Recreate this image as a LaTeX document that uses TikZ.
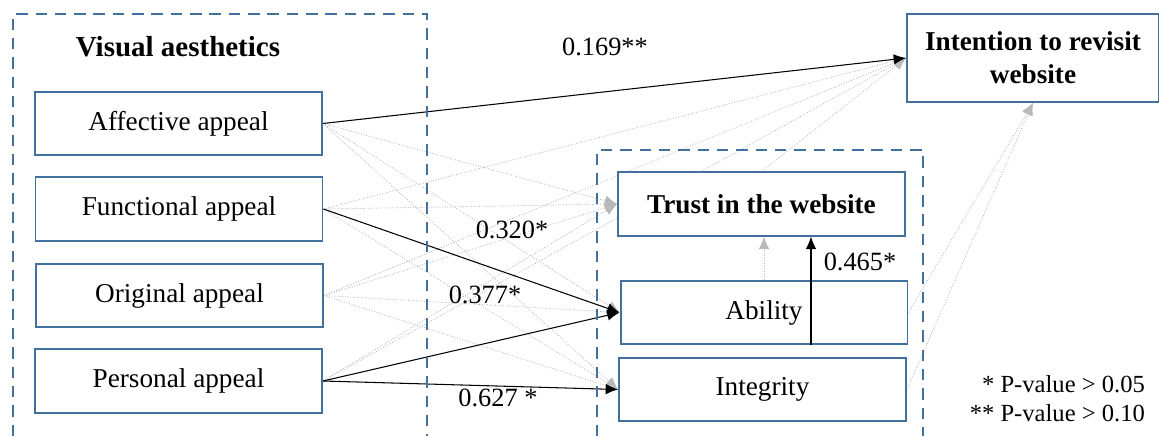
\documentclass[tikz,border=0pt]{standalone}
\usepackage{fontspec}
\setmainfont{Liberation Serif}
\usetikzlibrary{arrows.meta,backgrounds}
\definecolor{boxblue}{RGB}{66,113,158}
\definecolor{weakgray}{RGB}{185,185,185}
\tikzset{factor/.style={draw=boxblue, line width=1.1pt, fill=white, inner sep=0pt,
      minimum width=5.74cm, minimum height=1.27cm, font=\fontsize{15.5}{18.8}\selectfont}}
\tikzset{group/.style={draw=boxblue, line width=1.2pt, dash pattern=on 6.5pt off 4.5pt}}
\tikzset{sig/.style={-{Latex[length=7pt,width=6pt]}, line width=0.6pt, black}}
\tikzset{nonsig/.style={-{Latex[length=7pt,width=6pt]}, line width=0.5pt, weakgray, densely dotted}}
\tikzset{coef/.style={font=\fontsize{15}{18}\selectfont, inner sep=1pt}}

\begin{document}
\begin{tikzpicture}[x=0.02cm,y=-0.02cm]
		\useasboundingbox (0,0) rectangle (1159,436);
		\draw[group] (13,436) -- (13,14) -- (427,14) -- (427,436);
		\draw[group] (597,436) -- (597,150) -- (923,150) -- (923,436);
		\node[font=\fontsize{16.5}{20}\selectfont\bfseries] (title) at (178,47) {Visual aesthetics};
		\node[factor] (aff) at (178.5,123.5) {Affective appeal};
		\node[factor] (fun) at (179,209) {Functional appeal};
		\node[factor] (ori) at (179.5,295.5) {Original appeal};
		\node[factor] (per) at (178.5,381) {Personal appeal};
		\node[factor, font=\fontsize{15.5}{18.8}\selectfont\bfseries] (trust) at (761.5,204) {Trust in the website};
		\node[factor] (abil) at (764,312.5) {Ability};
		\node[factor] (integ) at (762.5,389.5) {Integrity};
		\node[factor, minimum width=5.04cm, minimum height=1.76cm, align=center,
		      font=\fontsize{15.5}{18.8}\selectfont\bfseries] (intent) at (1033,58) {Intention to revisit\\website};
		\begin{scope}[on background layer]
		\foreach \s/\t in {aff/trust, aff/abil, aff/integ, fun/trust, fun/integ, fun/intent,
		                   ori/trust, ori/abil, ori/integ, ori/intent, per/trust, per/intent}
		  \draw[nonsig] (\s.east) -- (\t.west);
		\draw[nonsig] (trust.north) -- (intent.west);
		\draw[nonsig] (abil.east) -- (intent.south);
		\draw[nonsig] (integ.east) -- (intent.south);
		\draw[nonsig] (abil.north) -- (abil.north |- trust.south);
		\draw[sig] (aff.east) -- (intent.west);
		\draw[sig] (fun.east) -- (abil.west);
		\draw[sig] (per.east) -- (abil.west);
		\draw[sig] (per.east) -- (integ.west);
		\end{scope}
		\draw[sig] ([xshift=0.94cm]abil.south) coordinate (a465) -- (a465 |- trust.south);
		\node[coef] (c169) at (605,47) {0.169**};
		\node[coef] (c320) at (512,230) {0.320*};
		\node[coef] (c377) at (485,295) {0.377*};
		\node[coef] (c627) at (498,398) {0.627 *};
		\node[coef] (c465) at (860,262) {0.465*};
		\node[coef, font=\fontsize{14}{17}\selectfont, anchor=east] (note1) at (1147,384) {* P-value > 0.05};
		\node[coef, font=\fontsize{14}{17}\selectfont, anchor=east] (note2) at (1147,413) {** P-value > 0.10};
		\end{tikzpicture}
\end{document}
